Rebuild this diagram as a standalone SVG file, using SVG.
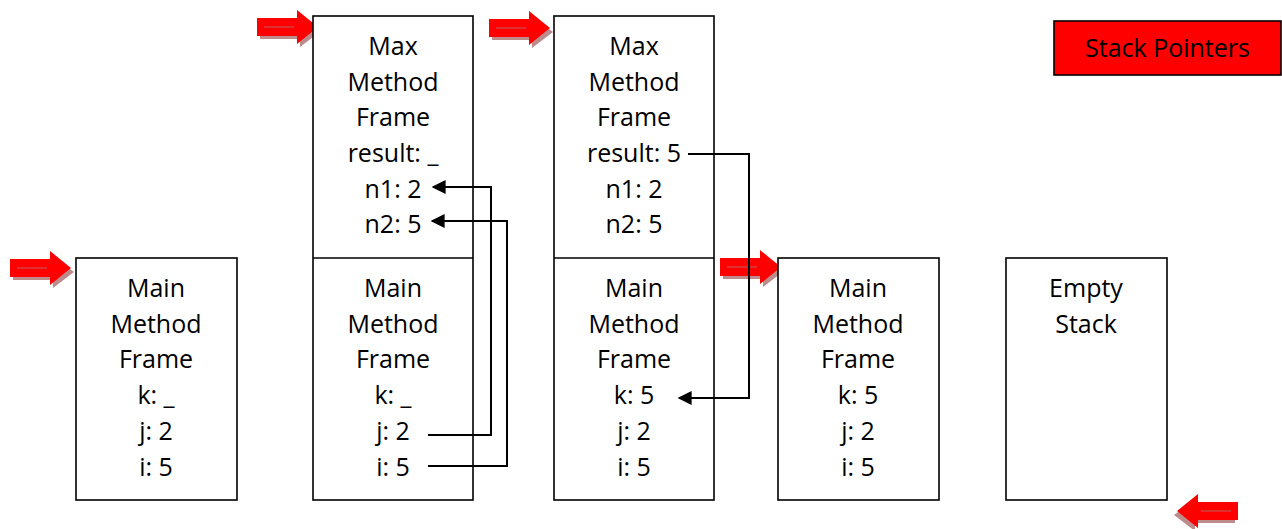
<svg xmlns="http://www.w3.org/2000/svg" width="1282" height="529" viewBox="0 0 1282 529">
  <style>
    .frame { fill: #ffffff; stroke: #000000; stroke-width: 1.6; }
    .divider { stroke: #000000; stroke-width: 1.6; }
    .lbl { font-family: "Open Sans", "DejaVu Sans", sans-serif; font-size: 25px; fill: #000000; text-anchor: middle; }
    .legend { font-family: "Open Sans", "Liberation Sans", sans-serif; font-size: 25px; fill: #000000; text-anchor: middle; }
    .link { fill: none; stroke: #000000; stroke-width: 2; }
  </style>
  <defs>
    <marker id="tip" viewBox="0 0 10 10" refX="9" refY="5" markerWidth="7" markerHeight="7" orient="auto-start-reverse" markerUnits="strokeWidth">
      <path d="M0,0 L10,5 L0,10 Z" fill="#000000"/>
    </marker>
    <!-- block arrow used for the stack pointers, tip at origin pointing right -->
    <g id="ptr">
      <path d="M-58,-5 H-18 V-12 L3,4 L-18,20 V12 H-58 Z" fill="#b07878" opacity="0.85"/>
      <path d="M-61,-9 H-21 V-17 L0,0 L-21,17 V9 H-61 Z" fill="#ff0000"/>
      <path d="M-54,0 H-24" stroke="#d04040" stroke-width="1.5"/>
    </g>
  </defs>

  <!-- stack pointer arrows -->
  <g id="pointers">
    <use href="#ptr" transform="translate(318,27)"/>
    <use href="#ptr" transform="translate(550,28)"/>
    <use href="#ptr" transform="translate(71,268)"/>
    <use href="#ptr" transform="translate(781,267)"/>
    <use href="#ptr" transform="translate(1177,511) scale(-1,1)"/>
  </g>

  <!-- legend -->
  <g id="legend">
    <rect x="1054" y="21" width="227" height="54" fill="#ff0000" stroke="#000000" stroke-width="1.6"/>
    <text class="legend" x="1167.5" y="57">Stack Pointers</text>
  </g>

  <!-- stack 1: main only -->
  <g id="stack1">
    <rect class="frame" x="76" y="258" width="161" height="242"/>
    <text class="lbl" x="156" y="297">Main</text>
    <text class="lbl" x="156" y="333">Method</text>
    <text class="lbl" x="156" y="368">Frame</text>
    <text class="lbl" x="156" y="404">k: _</text>
    <text class="lbl" x="156" y="440">j: 2</text>
    <text class="lbl" x="156" y="476">i: 5</text>
  </g>

  <!-- stack 2: max called from main -->
  <g id="stack2">
    <rect class="frame" x="313" y="16" width="160" height="484"/>
    <line class="divider" x1="313" y1="258" x2="473" y2="258"/>
    <text class="lbl" x="393" y="55">Max</text>
    <text class="lbl" x="393" y="91">Method</text>
    <text class="lbl" x="393" y="126">Frame</text>
    <text class="lbl" x="393" y="162">result: _</text>
    <text class="lbl" x="393" y="198">n1: 2</text>
    <text class="lbl" x="393" y="233">n2: 5</text>
    <text class="lbl" x="393" y="297">Main</text>
    <text class="lbl" x="393" y="333">Method</text>
    <text class="lbl" x="393" y="368">Frame</text>
    <text class="lbl" x="393" y="404">k: _</text>
    <text class="lbl" x="393" y="440">j: 2</text>
    <text class="lbl" x="393" y="476">i: 5</text>
  </g>

  <!-- stack 3: max returns -->
  <g id="stack3">
    <rect class="frame" x="554" y="16" width="160" height="484"/>
    <line class="divider" x1="554" y1="258" x2="714" y2="258"/>
    <text class="lbl" x="634" y="55">Max</text>
    <text class="lbl" x="634" y="91">Method</text>
    <text class="lbl" x="634" y="126">Frame</text>
    <text class="lbl" x="634" y="162">result: 5</text>
    <text class="lbl" x="634" y="198">n1: 2</text>
    <text class="lbl" x="634" y="233">n2: 5</text>
    <text class="lbl" x="634" y="297">Main</text>
    <text class="lbl" x="634" y="333">Method</text>
    <text class="lbl" x="634" y="368">Frame</text>
    <text class="lbl" x="634" y="404">k: 5</text>
    <text class="lbl" x="634" y="440">j: 2</text>
    <text class="lbl" x="634" y="476">i: 5</text>
  </g>

  <!-- stack 4: main after return -->
  <g id="stack4">
    <rect class="frame" x="778" y="258" width="161" height="242"/>
    <text class="lbl" x="858" y="297">Main</text>
    <text class="lbl" x="858" y="333">Method</text>
    <text class="lbl" x="858" y="368">Frame</text>
    <text class="lbl" x="858" y="404">k: 5</text>
    <text class="lbl" x="858" y="440">j: 2</text>
    <text class="lbl" x="858" y="476">i: 5</text>
  </g>

  <!-- stack 5: empty -->
  <g id="stack5">
    <rect class="frame" x="1006" y="258" width="161" height="242"/>
    <text class="lbl" x="1086" y="297">Empty</text>
    <text class="lbl" x="1086" y="333">Stack</text>
  </g>

  <!-- value passing connectors -->
  <g id="connectors">
    <polyline class="link" points="428,435 491,435 491,187 433,187" marker-end="url(#tip)"/>
    <polyline class="link" points="428,466 507,466 507,221 432,221" marker-end="url(#tip)"/>
    <polyline class="link" points="688,154 749,154 749,398 679,398" marker-end="url(#tip)"/>
  </g>
</svg>
